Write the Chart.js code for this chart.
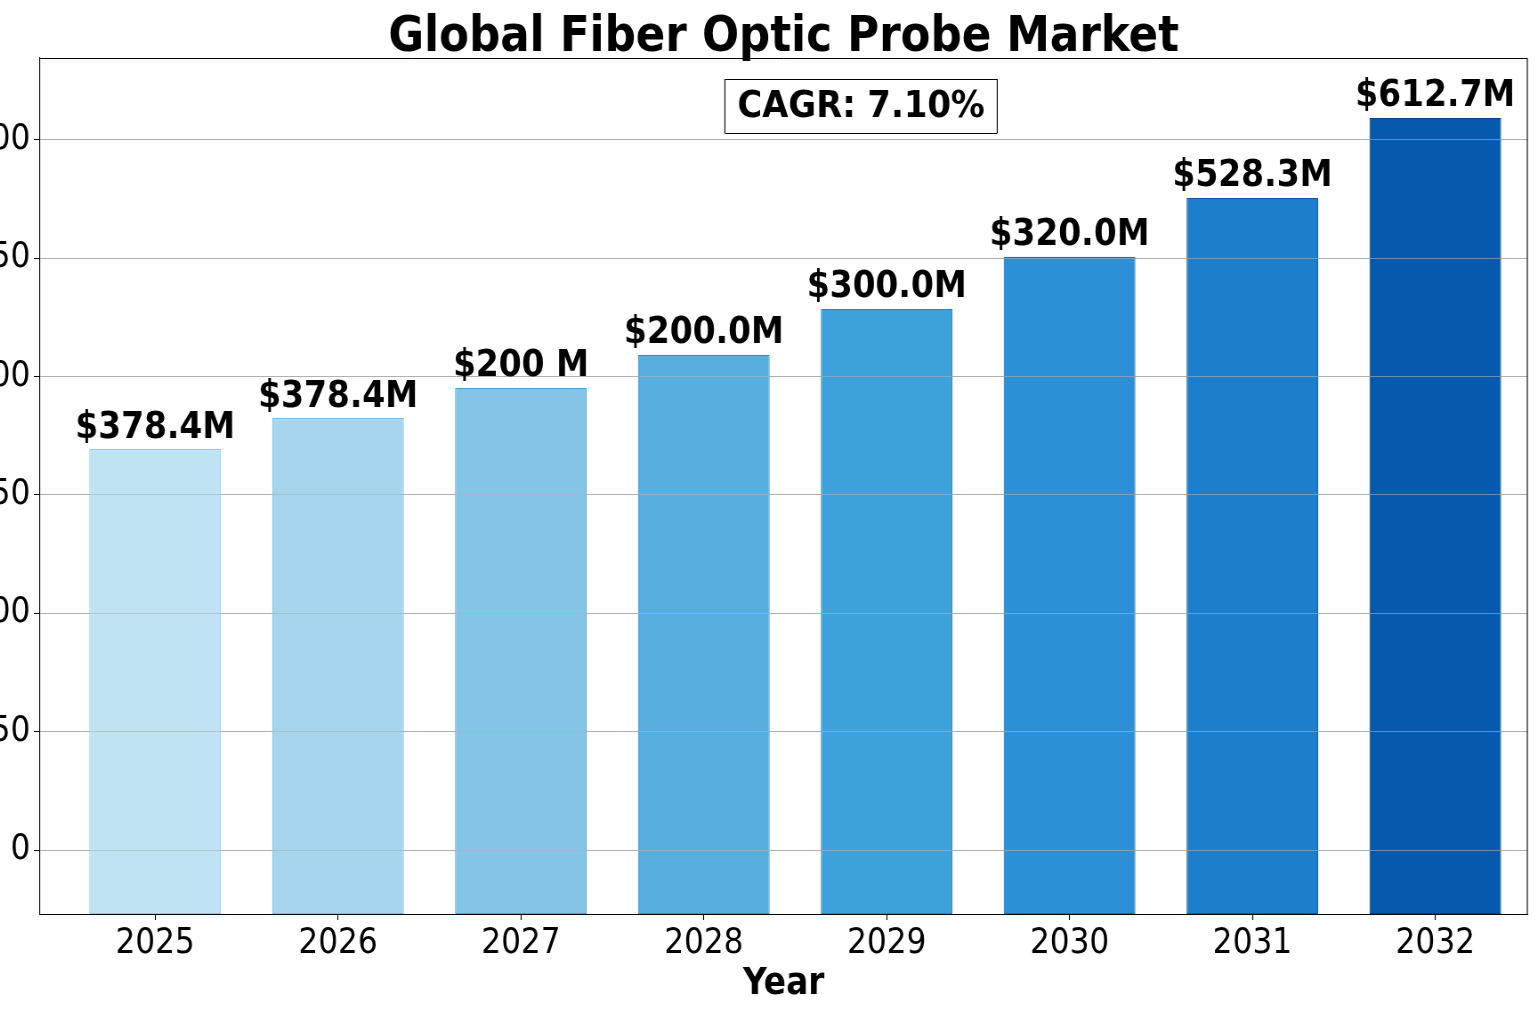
<!DOCTYPE html>
<html>
<head>
<meta charset="utf-8">
<title>Global Fiber Optic Probe Market</title>
<script src="https://cdn.jsdelivr.net/npm/chart.js@4.4.1/dist/chart.umd.min.js"></script>
<style>
  html, body { margin: 0; padding: 0; background: #fff; overflow: hidden; width: 1536px; height: 1024px; }
  /* the original figure is slightly squeezed horizontally, so the canvas is too */
  #wrap { position: absolute; left: -40px; top: 0; width: 1771px; height: 1024px;
          transform: scaleX(0.89); transform-origin: 0 0; }
</style>
</head>
<body>
<div id="wrap"><canvas id="marketChart" width="1771" height="1024"></canvas></div>
<script>
const years = [2025, 2026, 2027, 2028, 2029, 2030, 2031, 2032];
const marketValues = [169.4, 182.5, 195.2, 209.2, 228.6, 250.6, 275.5, 309.3];
const valueLabels = ['$378.4M', '$378.4M', '$200 M', '$200.0M', '$300.0M', '$320.0M', '$528.3M', '$612.7M'];
const yTicks = [0, 50, 100, 150, 200, 250, 300];
const yMin = -27;
const yMax = 334.6;
const xMin = 2024.371;
const xMax = 2032.503;
const cagrText = 'CAGR: 7.10%';

const barColors = ['#c0e3f4', '#a6d5ed', '#84c4e7', '#58aedf', '#3ea2da', '#2b90d5', '#1d7ecb', '#0659ac'];
const barBorders = ['#8ccbe7', '#74bce2', '#44a2d8', '#2a8fcd', '#2586c6', '#176fb9', '#0c58a4', '#063d88'];

Chart.defaults.font.family = '"DejaVu Sans", sans-serif';
Chart.defaults.color = '#000';

// grid lines again on top of the bars, plus the value labels
const overlayPlugin = {
    id: 'overlay',
    afterDatasetsDraw(chart) {
        const ctx = chart.ctx;
        const area = chart.chartArea;
        const y = chart.scales.y;
        ctx.save();
        ctx.strokeStyle = 'rgba(176,176,176,0.6)';
        ctx.lineWidth = 1;
        yTicks.forEach(function (v) {
            const py = Math.round(y.getPixelForValue(v) - 0.5) + 0.5;
            ctx.beginPath();
            ctx.moveTo(area.left, py);
            ctx.lineTo(area.right, py);
            ctx.stroke();
        });

        ctx.fillStyle = '#000';
        ctx.font = 'bold 37px "DejaVu Sans", sans-serif';
        ctx.textAlign = 'center';
        ctx.textBaseline = 'alphabetic';
        chart.getDatasetMeta(0).data.forEach(function (bar, i) {
            ctx.fillText(valueLabels[i], bar.x, bar.y - 11.5);
        });
        ctx.restore();
    },
    afterDraw(chart) {
        const ctx = chart.ctx;
        const area = chart.chartArea;
        ctx.save();
        ctx.strokeStyle = '#000';
        // top and right edges of the frame
        ctx.lineWidth = 1;
        ctx.beginPath();
        ctx.moveTo(area.left, Math.round(area.top) + 0.5);
        ctx.lineTo(area.right, Math.round(area.top) + 0.5);
        ctx.stroke();
        ctx.lineWidth = 1.12;
        ctx.beginPath();
        ctx.moveTo(area.right, area.top);
        ctx.lineTo(area.right, area.bottom);
        ctx.stroke();

        // CAGR box
        ctx.font = 'bold 38px "DejaVu Sans", sans-serif';
        const tw = ctx.measureText(cagrText).width;
        const cx = area.left + 0.552 * (area.right - area.left);
        const cy = area.bottom - 0.944 * (area.bottom - area.top);
        const bw = tw + 28;
        const bh = 54;
        ctx.fillStyle = '#fff';
        ctx.fillRect(cx - bw / 2, cy - bh / 2, bw, bh);
        ctx.lineWidth = 1;
        ctx.beginPath();
        ctx.moveTo(cx - bw / 2, Math.round(cy - bh / 2) + 0.5);
        ctx.lineTo(cx + bw / 2, Math.round(cy - bh / 2) + 0.5);
        ctx.moveTo(cx - bw / 2, Math.round(cy + bh / 2) + 0.5);
        ctx.lineTo(cx + bw / 2, Math.round(cy + bh / 2) + 0.5);
        ctx.stroke();
        ctx.lineWidth = 1.12;
        ctx.beginPath();
        ctx.moveTo(cx - bw / 2, cy - bh / 2);
        ctx.lineTo(cx - bw / 2, cy + bh / 2);
        ctx.moveTo(cx + bw / 2, cy - bh / 2);
        ctx.lineTo(cx + bw / 2, cy + bh / 2);
        ctx.stroke();
        ctx.fillStyle = '#000';
        ctx.textAlign = 'center';
        ctx.textBaseline = 'middle';
        ctx.fillText(cagrText, cx, cy + 1);
        ctx.restore();
    }
};

const ctx = document.getElementById('marketChart').getContext('2d');

const marketChart = new Chart(ctx, {
    type: 'bar',
    data: {
        datasets: [{
            label: 'Market size',
            data: years.map(function (yr, i) { return { x: yr, y: marketValues[i] }; }),
            backgroundColor: barColors,
            borderColor: barBorders,
            borderWidth: 1.1,
            borderSkipped: false,
            base: yMin,
            barPercentage: 0.9,
            categoryPercentage: 0.8
        }]
    },
    options: {
        responsive: false,
        animation: false,
        layout: { padding: { left: 0, right: 10, top: 0, bottom: 0 } },
        plugins: {
            legend: { display: false },
            tooltip: { enabled: false },
            title: {
                display: true,
                text: 'Global Fiber Optic Probe Market',
                fullSize: false,
                font: { size: 49, weight: 'bold', lineHeight: 0.8 },
                color: '#000',
                padding: { top: 18.8, bottom: 0 }
            }
        },
        scales: {
            x: {
                type: 'linear',
                min: xMin,
                max: xMax,
                offset: false,
                afterBuildTicks: function (scale) {
                    scale.ticks = years.map(function (v) { return { value: v }; });
                },
                afterFit: function (scale) { scale.height = 110; },
                ticks: {
                    font: { size: 35 },
                    padding: 3,
                    maxRotation: 0,
                    autoSkip: false,
                    callback: function (v) { return String(v); }
                },
                grid: {
                    display: true,
                    offset: false,
                    drawOnChartArea: false,
                    tickLength: 6,
                    tickColor: '#000',
                    tickWidth: 1.12
                },
                border: { display: true, color: '#000', width: 1 },
                title: {
                    display: true,
                    text: 'Year',
                    font: { size: 37, weight: 'bold' },
                    color: '#000',
                    padding: { top: 0, bottom: 17 }
                }
            },
            y: {
                min: yMin,
                max: yMax,
                afterBuildTicks: function (scale) {
                    scale.ticks = yTicks.map(function (v) { return { value: v }; });
                },
                afterFit: function (scale) { scale.width = 90; },
                ticks: {
                    font: { size: 35 },
                    padding: 4
                },
                grid: {
                    color: '#b0b0b0',
                    lineWidth: 1,
                    tickLength: 7,
                    tickColor: '#000',
                    tickWidth: 1
                },
                border: { display: true, color: '#000', width: 1.12 }
            }
        }
    },
    plugins: [overlayPlugin]
});
</script>
</body>
</html>
